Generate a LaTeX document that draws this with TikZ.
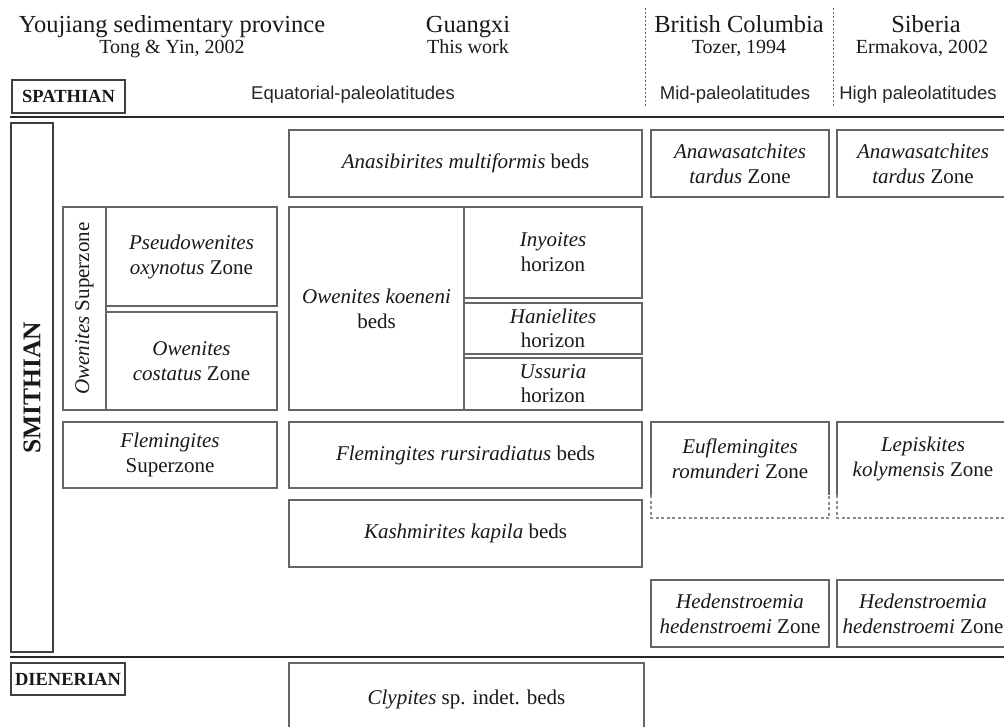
\documentclass[tikz,border=0pt]{standalone}
\usepackage{fontspec}
\setmainfont{Liberation Serif}
\setsansfont{Liberation Sans}
\usetikzlibrary{positioning}

\newcommand{\zonefont}{\fontsize{21}{25}\selectfont}
\newcommand{\titlefont}{\fontsize{24.5}{29}\selectfont}
\newcommand{\sourcefont}{\fontsize{20}{24}\selectfont}
\newcommand{\latfont}{\sffamily\fontsize{18.5}{22}\selectfont}
\newcommand{\stagefont}{\bfseries\fontsize{18.5}{22}\selectfont}

\begin{document}
\begin{tikzpicture}
	[x=1pt, y=-1pt,
	zone/.style={draw=black!60, line width=1.2pt, fill=white, text=black!90, align=center,
		inner sep=1pt, outer sep=0pt, anchor=north west, font=\zonefont},
	stage/.style={zone, draw=black!75, font=\stagefont},
	title/.style={anchor=base, text=black!90, font=\titlefont},
	source/.style={anchor=base, text=black!90, font=\sourcefont},
	latitude/.style={anchor=base, text=black!85, font=\latfont},
	boundary/.style={line width=2.4pt, black!85},
	column/.style={line width=1pt, black!60, dash pattern=on 2pt off 2pt},
	zoneline/.style={black!60, line width=1.2pt}]
	
	\useasboundingbox (0,0) rectangle (1004,726);
	\clip (0,0) rectangle (1004,726);
	
	% regions and sources
	\node[title]    (youjiang)   at (172,32) {Youjiang sedimentary province};
	\node[source]   (tong_yin)   at (172,53) {Tong \& Yin, 2002};
	\node[title]    (guangxi)    at (468,32) {Guangxi};
	\node[source]   (this_work)  at (468,53) {This work};
	\node[title]    (columbia)   at (739,32) {British Columbia};
	\node[source]   (tozer)      at (739,53) {Tozer, 1994};
	\node[title]    (siberia)    at (926,32) {Siberia};
	\node[source]   (ermakova)   at (922,53) {Ermakova, 2002};
	
	\node[latitude] (equatorial) at (353,99) {Equatorial-paleolatitudes};
	\node[latitude] (mid_lat)    at (735,99) {Mid-paleolatitudes};
	\node[latitude] (high_lat)   at (918,99) {High paleolatitudes};
	
	\coordinate (col_bc_top)  at (645,8);
	\coordinate (col_bc_bot)  at (645,107);
	\coordinate (col_sib_top) at (833,8);
	\coordinate (col_sib_bot) at (833,107);
	\draw[column] (col_bc_top)  -- (col_bc_bot);
	\draw[column] (col_sib_top) -- (col_sib_bot);
	
	% stage boundaries
	\coordinate (top_left)  at (10,117);
	\coordinate (top_right) at (1010,117);
	\coordinate (base_left)  at (10,657);
	\coordinate (base_right) at (1010,657);
	\draw[boundary] (top_left)  -- (top_right);
	\draw[boundary] (base_left) -- (base_right);
	
	\node[stage, minimum width=113pt, minimum height=33pt] (spathian)  at (12,80)  {SPATHIAN};
	\node[stage, minimum width=114pt, minimum height=32pt] (dienerian) at (11,663) {DIENERIAN};
	\node[stage, minimum width=42pt, minimum height=529pt] (smithian)  at (11,123) {};
	\node[rotate=90, text=black!90, font=\bfseries\fontsize{25.5}{30}\selectfont] (smithian_label)
		at (smithian.center) {SMITHIAN};
	
	% Youjiang
	\node[zone, minimum width=43pt, minimum height=203pt] (owenites_super) at (63,207) {};
	\node[rotate=90, text=black!90, font=\zonefont] (owenites_super_label)
		at (owenites_super.center) {\textit{Owenites} Superzone};
	\node[zone, minimum width=171pt, minimum height=99pt] (pseudowenites) at (106,207)
		{\textit{Pseudowenites}\\ \textit{oxynotus} Zone};
	\node[zone, minimum width=171pt, minimum height=98pt] (costatus) [below=6pt of pseudowenites]
		{\textit{Owenites}\\ \textit{costatus} Zone};
	\node[zone, minimum width=214pt, minimum height=66pt] (flemingites_super) at (63,422)
		{\textit{Flemingites}\\ Superzone};
	
	% Guangxi
	\node[zone, minimum width=353pt, minimum height=67pt] (anasibirites) at (289,130)
		{\textit{Anasibirites multiformis} beds};
	\node[zone, minimum width=175pt, minimum height=203pt] (koeneni) at (289,207)
		{\textit{Owenites koeneni}\\ beds};
	\node[zone, minimum width=178pt, minimum height=91pt] (inyoites) at (464,207)
		{\textit{Inyoites}\\ horizon};
	\node[zone, minimum width=178pt, minimum height=51pt, font=\fontsize{21}{24}\selectfont]
		(hanielites) [below=5pt of inyoites] {\textit{Hanielites}\\ horizon};
	\node[zone, minimum width=178pt, minimum height=52pt, font=\fontsize{21}{24}\selectfont]
		(ussuria) [below=4pt of hanielites] {\textit{Ussuria}\\ horizon};
	\node[zone, minimum width=353pt, minimum height=66pt] (rursiradiatus) at (289,422)
		{\textit{Flemingites rursiradiatus} beds};
	\node[zone, minimum width=353pt, minimum height=67pt] (kashmirites) [below=12pt of rursiradiatus]
		{\textit{Kashmirites kapila} beds};
	\node[zone, minimum width=355pt, minimum height=72pt] (clypites) at (289,663)
		{\textit{Clypites} sp. indet. beds};
	
	% British Columbia and Siberia
	\node[zone, minimum width=178pt, minimum height=67pt] (anawa_bc) [right=9pt of anasibirites]
		{\textit{Anawasatchites}\\ \textit{tardus} Zone};
	\node[zone, minimum width=172pt, minimum height=67pt] (anawa_sib) [right=8pt of anawa_bc]
		{\textit{Anawasatchites}\\ \textit{tardus} Zone};
	
	\node[zone, draw=none, minimum width=178pt, minimum height=73pt] (euflemingites) at (651,422)
		{\textit{Euflemingites}\\ \textit{romunderi} Zone};
	\node[zone, draw=none, minimum width=172pt, minimum height=73pt] (lepiskites) [right=8pt of euflemingites]
		{\textit{Lepiskites}\\ \textit{kolymensis} Zone};
	\foreach \zn in {euflemingites, lepiskites} {
		\draw[zoneline] (\zn.south west) -- (\zn.north west) -- (\zn.north east) -- (\zn.south east);
		\draw[zoneline, black!45, dash pattern=on 3pt off 2.5pt] (\zn.south west) -- ++(0,23) -| (\zn.south east);
	}
	
	\node[zone, minimum width=178pt, minimum height=67pt] (heden_bc) at (651,580)
		{\textit{Hedenstroemia}\\ \textit{hedenstroemi} Zone};
	\node[zone, minimum width=172pt, minimum height=67pt] (heden_sib) [right=8pt of heden_bc]
		{\textit{Hedenstroemia}\\ \textit{hedenstroemi} Zone};
\end{tikzpicture}
\end{document}
